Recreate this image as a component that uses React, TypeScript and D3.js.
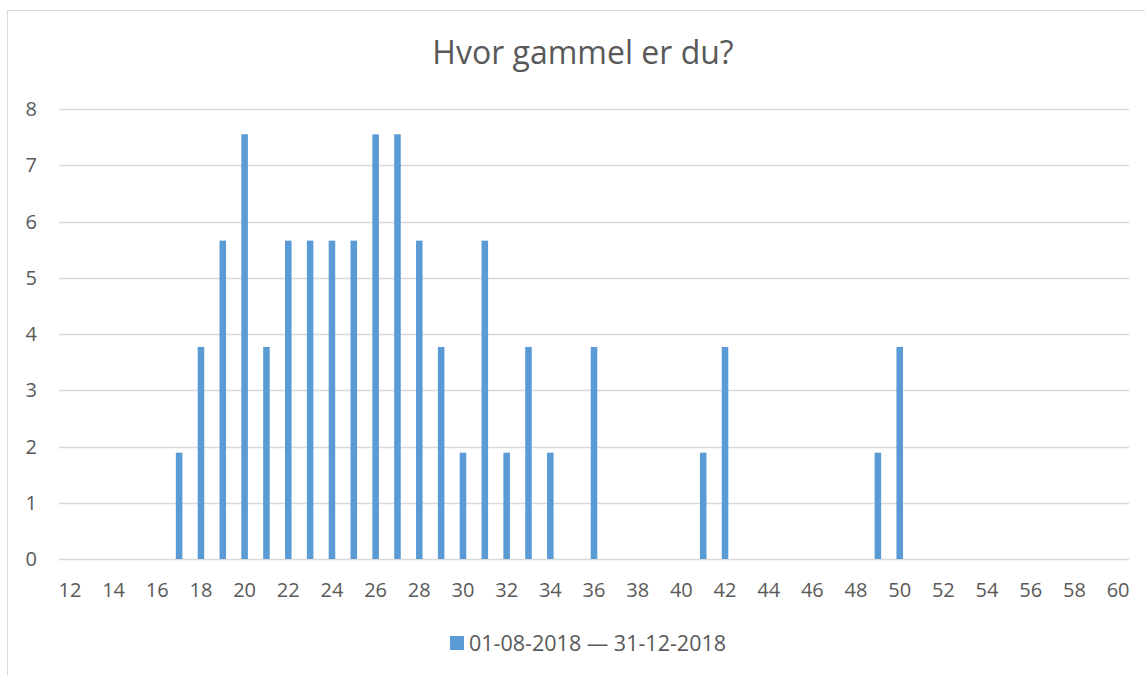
import React, { useEffect, useRef } from 'react'
import * as d3 from 'd3'

// ages on the x axis (12..60) and share of answers in percent
const ages: number[] = d3.range(12, 61)
const answerAges = [17, 18, 19, 20, 21, 22, 23, 24, 25, 26, 27, 28, 29, 30, 31, 32, 33, 34, 36, 41, 42, 49, 50]
const answerPct = [1.89, 3.77, 5.66, 7.55, 3.77, 5.66, 5.66, 5.66, 5.66, 7.55, 7.55, 5.66, 3.77, 1.89, 5.66, 1.89, 3.77, 1.89, 3.77, 1.89, 3.77, 1.89, 3.77]
const yTicks = [0, 1, 2, 3, 4, 5, 6, 7, 8]
const title = 'Hvor gammel er du?'
const seriesName = '01-08-2018 — 31-12-2018'

const W = 1145
const H = 675
const FONT = '"Open Sans", sans-serif'
const BLUE = '#5b9bd5'
const TEXT = '#595959'

function Chart() {
  const ref = useRef<SVGSVGElement>(null)

  useEffect(() => {
    const svg = d3.select(ref.current)
    svg.selectAll('*').remove()

    const left = 59, right = 1129, top = 109, bottom = 559

    const x = d3.scaleBand<number>().domain(ages).range([left, right]).paddingInner(0.7).paddingOuter(0.35)
    const y = d3.scaleLinear().domain([0, 8]).range([bottom, top])

    svg.append('rect')
      .attr('x', 7.5).attr('y', 10.5)
      .attr('width', W).attr('height', H)
      .attr('fill', '#fff').attr('stroke', '#d9d9d9')

    svg.append('text')
      .attr('x', 583).attr('y', 64)
      .attr('text-anchor', 'middle')
      .attr('font-family', FONT).attr('font-size', 32)
      .attr('fill', TEXT)
      .text(title)

    // grid
    svg.append('g').selectAll('line').data(yTicks).enter().append('line')
      .attr('x1', left).attr('x2', right)
      .attr('y1', d => Math.round(y(d)) + 0.5).attr('y2', d => Math.round(y(d)) + 0.5)
      .attr('stroke', '#d9d9d9').attr('stroke-width', 1.3)

    svg.append('g').selectAll('text').data(yTicks).enter().append('text')
      .attr('x', 37).attr('y', d => y(d) + 7)
      .attr('text-anchor', 'end')
      .attr('font-family', FONT).attr('font-size', 20)
      .attr('fill', TEXT)
      .text(d => d)

    const xLabels = ages.filter(a => a % 2 === 0)
    svg.append('g').selectAll('text').data(xLabels).enter().append('text')
      .attr('x', d => (x(d) as number) + x.bandwidth() / 2)
      .attr('y', 597)
      .attr('text-anchor', 'middle')
      .attr('font-family', FONT).attr('font-size', 20)
      .attr('fill', TEXT)
      .text(d => d)

    svg.append('g').selectAll('rect').data(answerAges).enter().append('rect')
      .attr('x', d => x(d) as number)
      .attr('width', x.bandwidth())
      .attr('y', (d, i) => y(answerPct[i]))
      .attr('height', (d, i) => y(0) - y(answerPct[i]))
      .attr('fill', BLUE)

    // legend
    const lg = svg.append('g').attr('transform', 'translate(450,636)')
    lg.append('rect').attr('width', 14).attr('height', 14).attr('fill', BLUE)
    lg.append('text')
      .attr('x', 19).attr('y', 15)
      .attr('font-family', FONT).attr('font-size', 21.5)
      .attr('fill', TEXT)
      .text(seriesName)
  }, [])

  return <svg ref={ref} width={W} height={H} style={{ position: 'absolute', left: 0, top: 0 }} />
}

export default function App() {
  return <Chart />
}
